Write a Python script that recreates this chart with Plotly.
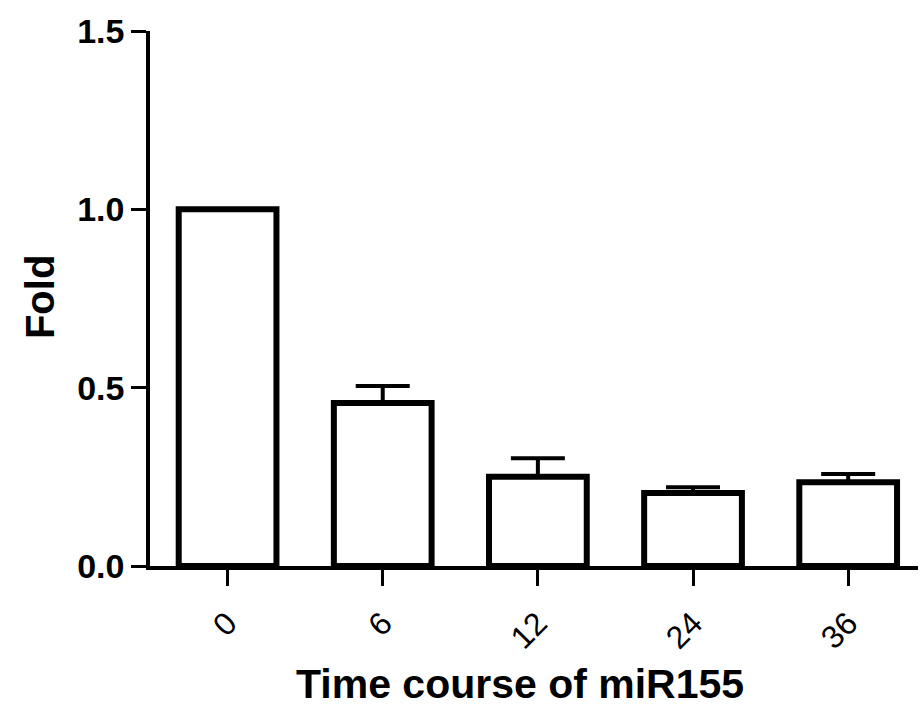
import plotly.graph_objects as go

categories = ["0", "6", "12", "24", "36"]
fold = [1.0, 0.457, 0.25, 0.205, 0.235]
err_up = [0.0, 0.048, 0.052, 0.016, 0.023]
y_ticks = [0.0, 0.5, 1.0, 1.5]
y_tick_labels = ["0.0", "0.5", "1.0", "1.5"]
x_title = "Time course of miR155"
y_title = "Fold"

FONT = "Liberation Sans, Arial, sans-serif"

fig = go.Figure()
fig.add_trace(go.Bar(
    x=list(range(len(categories))),
    y=fold,
    width=0.63,
    marker=dict(color="white", line=dict(color="black", width=6)),
    error_y=dict(type="data", symmetric=False, array=err_up,
                 arrayminus=[0] * len(err_up),
                 color="black", thickness=4, width=27),
    showlegend=False,
    hoverinfo="skip",
))

fig.update_layout(
    width=924, height=707,
    margin=dict(l=150, r=6, t=31, b=141),
    plot_bgcolor="white", paper_bgcolor="white",
    font=dict(family=FONT, color="black"),
    xaxis=dict(
        range=[-0.5, 4.45],
        tickmode="array",
        tickvals=list(range(len(categories))),
        ticktext=categories,
        tickangle=-45,
        ticks="outside", ticklen=16, tickwidth=3, tickcolor="black",
        ticklabelstandoff=6,
        tickfont=dict(family=FONT, size=32, color="black"),
        showline=True, linecolor="black", linewidth=3.5,
        showgrid=False, zeroline=False,
        fixedrange=True,
    ),
    yaxis=dict(
        range=[0, 1.5],
        tickmode="array",
        tickvals=y_ticks,
        ticktext=y_tick_labels,
        ticks="outside", ticklen=15, tickwidth=3, tickcolor="black",
        tickfont=dict(family=FONT, size=34, color="black", weight="bold"),
        showline=True, linecolor="black", linewidth=3.5,
        showgrid=False, zeroline=False,
        fixedrange=True,
    ),
    annotations=[
        dict(text=x_title, xref="paper", yref="paper", x=0.482, y=-0.22,
             xanchor="center", yanchor="middle", showarrow=False,
             font=dict(family=FONT, size=41, color="black", weight="bold")),
        dict(text=y_title, xref="paper", yref="paper", x=-0.143, y=0.503,
             xanchor="center", yanchor="middle", showarrow=False, textangle=-90,
             font=dict(family=FONT, size=40, color="black", weight="bold")),
    ],
)

fig.write_html("out.html")
